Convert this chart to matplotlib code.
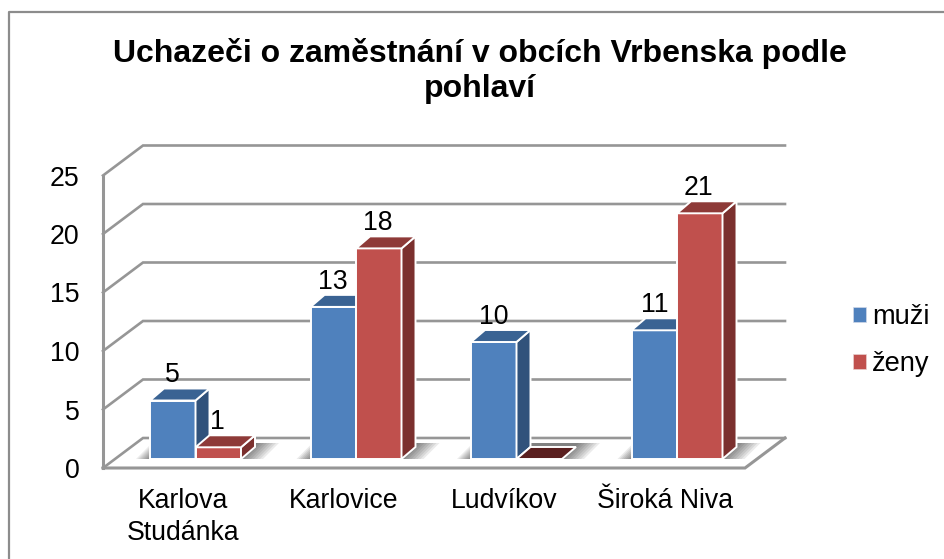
import matplotlib.pyplot as plt
from matplotlib.patches import Patch, Polygon

categories = ["Karlova\nStudánka", "Karlovice", "Ludvíkov", "Široká Niva"]
muzi = [5, 13, 10, 11]
zeny = [1, 18, 0, 21]
y_ticks = [0, 5, 10, 15, 20, 25]

W, H = 944, 559
X0, X_STEP = 195.5, 160.5  # pixel of category 0 (split of the two bars), pixels per category
Y0, Y_STEP = 459.0, 11.7  # pixel of value 0 on the bar plane, pixels per unit
PX = 1 / X_STEP
PY = 1 / Y_STEP
BAR = 45.5 * PX
DEPTH_X, DEPTH_Y = 14 * PX, 12 * PY

BLUE = ("#4F81BD", "#3A6393", "#31527B")
RED = ("#C0504D", "#8E3A38", "#7B302E")
ZERO_TOP = "#5A1F1F"
GRID = "#969696"
FS = 19.2

plt.rcParams["font.family"] = ["Liberation Sans", "DejaVu Sans"]

fig = plt.figure(figsize=(W / 100, H / 100), dpi=100)
ax = fig.add_axes([0, 0, 1, 1])
ax.set_xlim(-X0 * PX, (W - X0) * PX)
ax.set_ylim((Y0 - H) * PY, Y0 * PY)
ax.axis("off")


def fx(px):
    return (px - X0) * PX


def fy(px):
    return (Y0 - px) * PY


# chart frame
ax.plot([fx(9), fx(9), fx(944)], [fy(559), fy(12), fy(12)], color="#8C8C8C", lw=1.6)

# walls and gridlines
LEFT, BACK, RIGHT = fx(103), fx(143), fx(785)
FRONT_DY, BACK_DY = -9 * PY, 21 * PY
for v in y_ticks:
    ax.plot([LEFT, BACK, RIGHT], [v + FRONT_DY, v + BACK_DY, v + BACK_DY], color=GRID, lw=1.9, zorder=1,
            solid_joinstyle="miter")
    ax.text(fx(79.5), v + FRONT_DY, str(v), ha="right", va="center_baseline", fontsize=FS, color="black")
ax.plot([LEFT, LEFT], [FRONT_DY, y_ticks[-1] + FRONT_DY], color=GRID, lw=2.2, zorder=1)
ax.plot([LEFT, fx(745), RIGHT], [FRONT_DY, FRONT_DY, BACK_DY], color=GRID, lw=2.2, zorder=1,
        solid_joinstyle="miter")


def shadow(left, right):
    for k in range(8):
        a = left - (14 - 2 * k) * PX
        b = right + (24 - 3 * k) * PX
        ax.add_patch(Polygon([(a, 0), (b - 16 * PX, 0), (b, 16 * PY), (a + 16 * PX, 16 * PY)],
                             fc="black", ec="none", alpha=0.08, zorder=2))


def bar3d(left, value, colors):
    right = left + BAR
    if value > 0:
        ax.add_patch(Polygon([(left, 0), (right, 0), (right, value), (left, value)],
                             fc=colors[0], ec="white", lw=1.4, zorder=3))
        ax.add_patch(Polygon([(right, 0), (right + DEPTH_X, DEPTH_Y), (right + DEPTH_X, value + DEPTH_Y), (right, value)],
                             fc=colors[2], ec="white", lw=1.4, zorder=3))
    top = colors[1] if value > 0 else ZERO_TOP
    ax.add_patch(Polygon([(left, value), (right, value), (right + DEPTH_X, value + DEPTH_Y), (left + DEPTH_X, value + DEPTH_Y)],
                         fc=top, ec="white", lw=1.4, zorder=3))


for i in range(len(categories)):
    shadow(i - BAR, i + BAR + DEPTH_X)
for i, name in enumerate(categories):
    bar3d(i - BAR, muzi[i], BLUE)
    bar3d(i, zeny[i], RED)
    ax.text(i - BAR / 2, muzi[i] + 18 * PY, str(muzi[i]), ha="center", va="baseline", fontsize=FS, zorder=5)
    if zeny[i] > 0:
        ax.text(i + BAR / 2 - 1 * PX, zeny[i] + 18 * PY, str(zeny[i]), ha="center", va="baseline", fontsize=FS, zorder=5)
    ax.text(i - 12 * PX, fy(488), name, ha="center", va="top", fontsize=FS, linespacing=1.32)

ax.text(fx(480), fy(62), "Uchazeči o zaměstnání v obcích Vrbenska podle", ha="center", va="baseline",
        fontsize=23, fontweight="bold")
ax.text(fx(480), fy(97), "pohlaví", ha="center", va="baseline", fontsize=23, fontweight="bold")

handles = [Patch(fc=BLUE[0], ec="#D0D8E8", lw=0.5), Patch(fc=RED[0], ec="#E8D0D0", lw=0.5)]
fig.legend(handles, ["muži", "ženy"], loc="upper left", bbox_to_anchor=(848 / W, 1 - 299 / H), frameon=False,
           fontsize=19.6, handlelength=0.46, handleheight=0.46, handletextpad=0.22, labelspacing=0.76,
           borderpad=0.2, borderaxespad=0)

fig.savefig("out.png", dpi=100)
